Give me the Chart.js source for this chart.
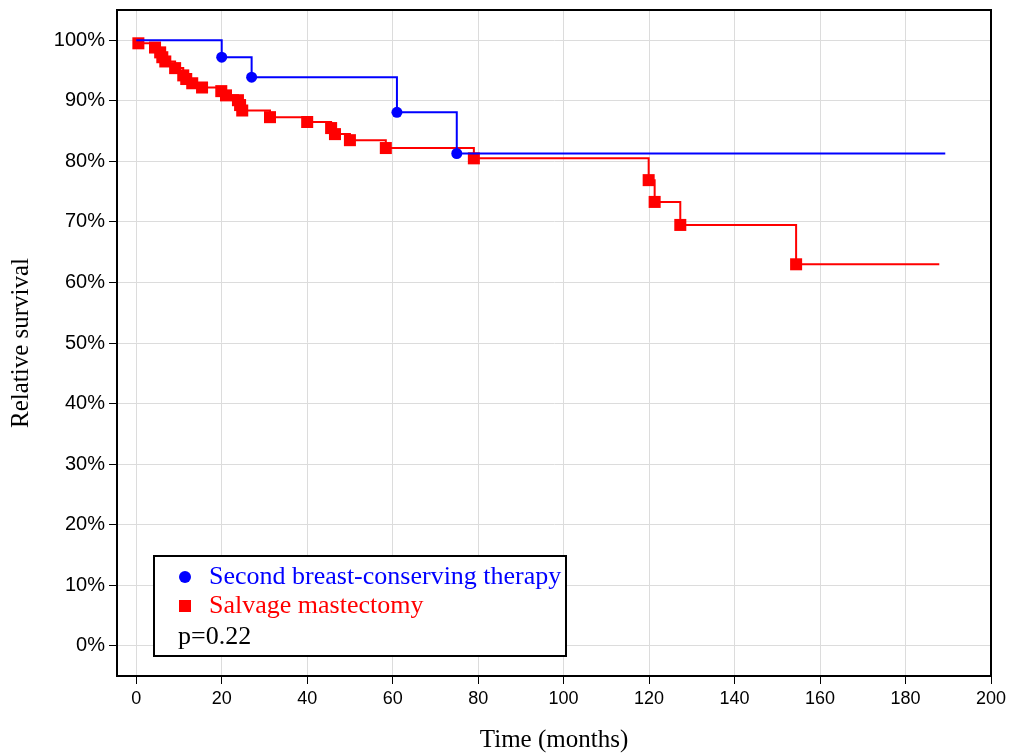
<!DOCTYPE html>
<html>
<head>
<meta charset="utf-8">
<script src="https://cdn.jsdelivr.net/npm/chart.js@4"></script>
<style>
  body { margin: 0; background: #fff; }
  #wrap { width: 1014px; height: 756px; position: relative; }
</style>
</head>
<body>
<div id="wrap"><canvas id="kmChart"></canvas></div>
<script>
// Kaplan-Meier steps (time in months, survival in %)
const bctTimes = [0, 20, 27, 61, 75, 189.3];
const bctSurvival = [100, 97.2, 93.9, 88.1, 81.3, 81.3];

const mastTimes = [0, 0.5, 4.4, 5.6, 6.1, 6.8, 9.1, 11.0, 11.7, 13.1, 15.4, 19.9, 21.0,
    23.8, 24.3, 24.8, 31.3, 40.0, 45.6, 46.5, 50.0, 58.4, 79.0, 119.9, 121.3, 127.3, 154.4, 187.9];
const mastSurvival = [100, 99.5, 98.8, 98.0, 97.2, 96.5, 95.4, 94.2, 93.6, 92.9, 92.2, 91.6, 90.9,
    90.1, 89.3, 88.4, 87.3, 86.5, 85.5, 84.5, 83.5, 82.2, 80.5, 76.9, 73.3, 69.5, 63.0, 63.0];

const xTicks = [0, 20, 40, 60, 80, 100, 120, 140, 160, 180, 200];
const yTicks = [0, 10, 20, 30, 40, 50, 60, 70, 80, 90, 100];

const seriesLabels = ['Second breast-conserving therapy', 'Salvage mastectomy'];
const pValueText = 'p=0.22';

const toPoints = (xs, ys) => xs.map((x, i) => ({ x: x, y: ys[i] }));

// no marker on the start point and on the end of the follow-up line
const markerRadius = (r) => (ctx) => {
    const n = ctx.dataset.data.length;
    return (ctx.dataIndex === 0 || ctx.dataIndex === n - 1) ? 0 : r;
};

const frameAndLegend = {
    id: 'frameAndLegend',
    afterDraw(chart) {
        const ctx = chart.ctx;
        const area = chart.chartArea;
        ctx.save();
        ctx.strokeStyle = '#000';
        ctx.lineWidth = 2;
        ctx.strokeRect(area.left, area.top, area.right - area.left, area.bottom - area.top);

        // legend box in the lower left of the plot
        const bx = area.left + 37, by = area.bottom - 120, bw = 412, bh = 100;
        ctx.fillStyle = '#fff';
        ctx.fillRect(bx, by, bw, bh);
        ctx.strokeRect(bx, by, bw, bh);

        ctx.font = "26px 'Liberation Serif', 'Times New Roman', serif";
        ctx.textBaseline = 'middle';
        ctx.textAlign = 'left';

        ctx.fillStyle = '#0000ff';
        ctx.beginPath();
        ctx.arc(bx + 31, by + 21, 6, 0, Math.PI * 2);
        ctx.fill();
        ctx.fillText(seriesLabels[0], bx + 55, by + 21);

        ctx.fillStyle = '#ff0000';
        ctx.fillRect(bx + 25, by + 44, 12, 12);
        ctx.fillText(seriesLabels[1], bx + 55, by + 50);

        ctx.fillStyle = '#000';
        ctx.fillText(pValueText, bx + 24, by + 81);
        ctx.restore();
    }
};

const xTickFont = { family: "'Liberation Sans', Arial, sans-serif", size: 18 };
const yTickFont = { family: "'Liberation Sans', Arial, sans-serif", size: 20 };
const titleFont = { family: "'Liberation Serif', 'Times New Roman', serif", size: 25 };

new Chart(document.getElementById('kmChart').getContext('2d'), {
    type: 'line',
    data: {
        datasets: [{
            label: seriesLabels[0],
            data: toPoints(bctTimes, bctSurvival),
            borderColor: '#0000ff',
            backgroundColor: '#0000ff',
            borderWidth: 2,
            stepped: 'before',
            pointStyle: 'circle',
            pointRadius: markerRadius(5.5),
            pointBorderWidth: 0
        }, {
            label: seriesLabels[1],
            data: toPoints(mastTimes, mastSurvival),
            borderColor: '#ff0000',
            backgroundColor: '#ff0000',
            borderWidth: 2,
            stepped: 'before',
            pointStyle: 'rect',
            pointRadius: markerRadius(8.5),
            pointBorderWidth: 0
        }]
    },
    options: {
        responsive: true,
        maintainAspectRatio: false,
        animation: false,
        layout: { padding: { top: 10, right: 23, left: 0, bottom: 0 } },
        plugins: {
            legend: { display: false },
            tooltip: { enabled: false }
        },
        scales: {
            x: {
                type: 'linear',
                min: -4.5,
                max: 200,
                afterBuildTicks: (scale) => { scale.ticks = xTicks.map(v => ({ value: v })); },
                afterFit: (scale) => { scale.height = 80; scale.paddingLeft = 0; scale.paddingRight = 0; },
                ticks: { color: '#000', font: xTickFont, padding: 4, maxRotation: 0 },
                grid: { color: '#dcdcdc', tickColor: '#000', tickLength: 8, lineWidth: 1 },
                border: { color: '#000', width: 2 },
                title: { display: true, text: 'Time (months)', color: '#000', font: titleFont, padding: { top: 1, bottom: 1 } }
            },
            y: {
                min: -5,
                max: 105,
                afterBuildTicks: (scale) => { scale.ticks = yTicks.map(v => ({ value: v })); },
                afterFit: (scale) => { scale.width = 117; scale.paddingTop = 0; scale.paddingBottom = 0; },
                ticks: { color: '#000', font: yTickFont, padding: 4, callback: (v) => v + '%' },
                grid: { color: '#dcdcdc', tickColor: '#000', tickLength: 8, lineWidth: 1 },
                border: { color: '#000', width: 2 },
                title: { display: true, text: 'Relative survival', color: '#000', font: titleFont, padding: { top: 6, bottom: 6 } }
            }
        }
    },
    plugins: [frameAndLegend]
});
</script>
</body>
</html>
